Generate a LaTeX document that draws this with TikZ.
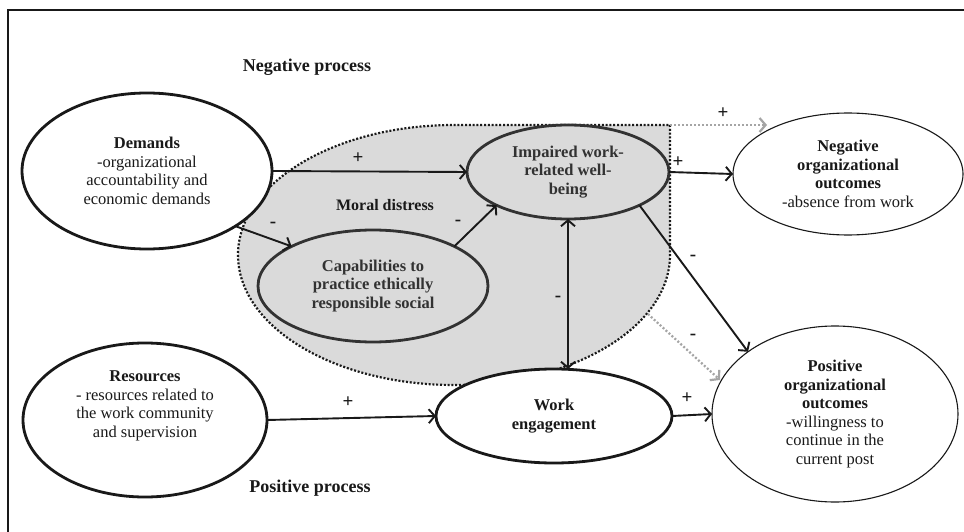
\documentclass[tikz,border=0pt]{standalone}
\usepackage{fontspec}
\setmainfont{Liberation Serif}
\usetikzlibrary{shapes.geometric,arrows.meta,calc}
\definecolor{ink}{RGB}{25,25,25}
\definecolor{inkgray}{RGB}{50,50,50}
\definecolor{shade}{RGB}{218,218,218}
\definecolor{dotgray}{RGB}{165,165,165}
\begin{document}
\begin{tikzpicture}[x=1pt,y=-1pt,
  every node/.style={inner sep=0pt, outer sep=0pt, align=center, text=ink},
  body/.style={font=\fontsize{16.5}{18.5}\selectfont},
  ell/.style={ellipse, draw=ink, fill=white, line width=2.8pt, body},
  ellthin/.style={ellipse, draw=ink, fill=white, line width=1.1pt, body},
  ellgray/.style={ellipse, draw=inkgray, fill=shade, line width=2.8pt, body, text=inkgray},
  tip/.tip={Straight Barb[length=6pt,width=14pt]},
  conn/.style={draw=ink, line width=1.9pt, -tip},
  dconn/.style={draw=ink, line width=1.9pt, tip-tip},
  gconn/.style={draw=dotgray, line width=2.2pt, dash pattern=on 2pt off 2pt, -tip},
  sign/.style={font=\fontsize{19}{19}\selectfont\bfseries},
  title/.style={font=\fontsize{18}{20}\selectfont\bfseries},
]
\useasboundingbox (0,0) rectangle (964,532);
\fill[white] (0,0) rectangle (964,532);
\draw[ink, line width=2pt] (8,532) -- (8,10) -- (964,10);

% moral distress region
\draw[fill=shade, draw=ink, line width=2.2pt, dash pattern=on 2pt off 1.8pt]
  (670,125) -- (670,255) arc[start angle=0, end angle=270, x radius=216, y radius=130] -- cycle;
\coordinate (mdc) at (670,125);
\coordinate (mdb) at (648,314);

% titles
\node[title] (negp) at (307,67) {Negative process};
\node[title] (posp) at (310,488) {Positive process};
\node[body, font=\fontsize{16}{18}\selectfont\bfseries] (md) at (385,205) {Moral distress};

% nodes
\node[ell, minimum width=250pt, minimum height=156pt] (dem) at (147,171)
  {\textbf{Demands}\\-organizational\\accountability and\\economic demands};
\node[ell, minimum width=244pt, minimum height=154pt] (res) at (145,420) {};
\node[body] (resT) at (145,406)
  {\textbf{Resources}\\- resources related to\\the work community\\and supervision};
\node[ellgray, minimum width=230pt, minimum height=112pt] (cap) at (373,286)
  {\textbf{Capabilities to}\\\textbf{practice ethically}\\\textbf{responsible social}};
\node[ellgray, minimum width=202pt, minimum height=94pt] (imp) at (568,172)
  {\textbf{Impaired work-}\\\textbf{related well-}\\\textbf{being}};
\node[ell, minimum width=236pt, minimum height=94pt] (we) at (554,416)
  {\textbf{Work}\\\textbf{engagement}};
\node[ellthin, minimum width=230pt, minimum height=122pt] (neg) at (848,174)
  {\textbf{Negative}\\\textbf{organizational}\\\textbf{outcomes}\\-absence from work};
\node[ellthin, minimum width=246pt, minimum height=176pt] (pos) at (835,414)
  {\textbf{Positive}\\\textbf{organizational}\\\textbf{outcomes}\\-willingness to\\continue in the\\current post};

% connectors
\draw[conn] (dem.east) -- (imp.west);
\draw[conn] (dem.south east) -- (cap.north west);
\draw[conn] (cap.north east) -- (imp.south west);
\draw[dconn] (imp.south) -- (imp.south |- we.north);
\draw[conn] (imp.east) -- (neg.west);
\draw[conn] (imp.south east) -- (pos.north west);
\draw[conn] (res.east) -- (we.west);
\draw[conn] (we.east) -- (pos.west);
\draw[gconn] (mdc) -- (767,125);
\draw[gconn] (mdb) -- ($(pos.center)+(-115,-34)$);

% signs
\node[sign] (s1) at (358,158) {+};
\node[sign] (s2) at (273,225) {-};
\node[sign] (s3) at (458,223) {-};
\node[sign] (s4) at (558,299) {-};
\node[sign] (s5) at (678,162) {+};
\node[sign] (s6) at (723,113) {+};
\node[sign] (s7) at (693,258) {-};
\node[sign] (s8) at (693,337) {-};
\node[sign] (s9) at (687,398) {+};
\node[sign] (s10) at (348,402) {+};
\end{tikzpicture}
\end{document}
